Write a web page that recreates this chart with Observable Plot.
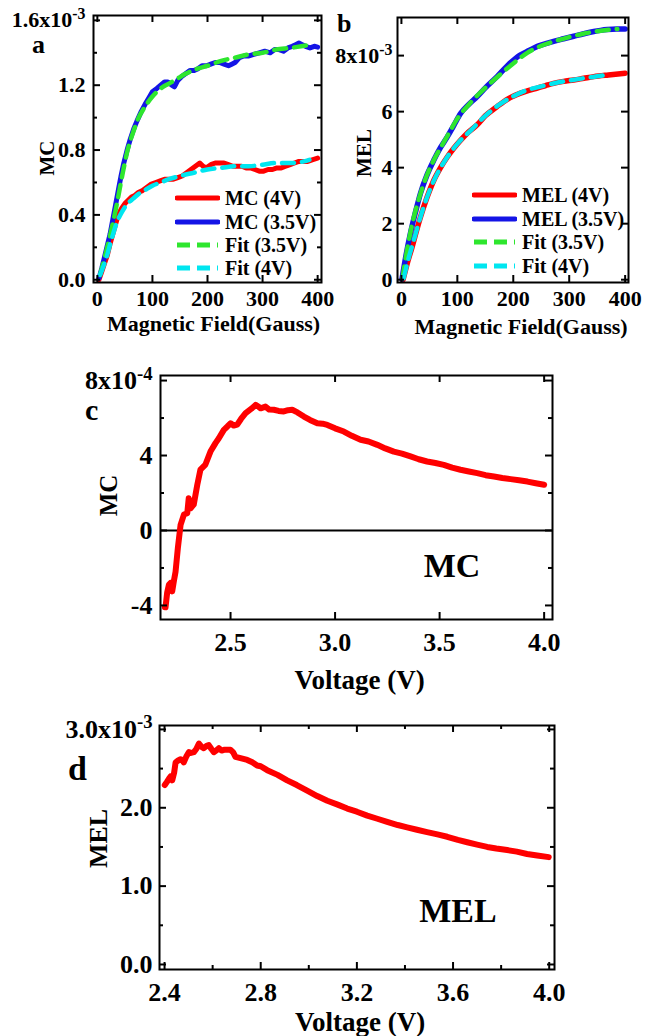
<!DOCTYPE html>
<html><head><meta charset="utf-8">
<script src="https://cdn.jsdelivr.net/npm/d3@7"></script>
<script src="https://cdn.jsdelivr.net/npm/@observablehq/plot@0.6"></script>
<style>
body{margin:0;background:#fff;}
#root{position:relative;width:650px;height:1036px;font-family:'Liberation Serif','Times New Roman',serif;font-weight:bold;color:#000;overflow:hidden;}
.pnl{position:absolute;}
.lab{position:absolute;white-space:nowrap;line-height:1;}
.leg{position:absolute;display:flex;align-items:center;height:24px;font-size:20px;white-space:nowrap;}
.leg svg{margin-right:5px;}
</style></head><body><div id="root"></div>
<script>
// ---------- colours ----------
const RED = "#ff0000", BLUE = "#1414e6", GREEN = "#2ee62e", CYAN = "#00e6f0";

// ---------- Panel a : MC vs magnetic field (units 1e-3) ----------
const aFieldMC35 = [3,8,13,18,23,28,33,38,43,48,54,60,66,72,80,88,95,100,108,115,122,128,135,140,146,152,160,168,175,182,190,198,206,214,222,230,238,244,250,258,266,274,284,294,304,314,322,330,338,346,354,360,366,372,378,386,394,400];
const aMC35 = [0.01,0.07,0.14,0.21,0.28,0.37,0.46,0.55,0.64,0.72,0.80,0.87,0.93,0.98,1.04,1.09,1.13,1.16,1.18,1.20,1.22,1.22,1.20,1.19,1.23,1.25,1.27,1.29,1.29,1.30,1.32,1.32,1.33,1.34,1.34,1.33,1.32,1.33,1.34,1.37,1.38,1.38,1.39,1.40,1.41,1.40,1.42,1.42,1.41,1.43,1.44,1.45,1.46,1.45,1.44,1.43,1.44,1.435];
const aFieldMC4 = [3,8,13,18,23,28,33,38,44,50,56,62,68,75,82,90,98,106,114,122,130,138,146,154,162,170,178,186,192,198,206,214,222,230,238,246,254,262,270,278,286,294,302,310,318,326,334,342,350,358,366,374,382,390,400];
const aMC4 = [0.00,0.05,0.10,0.15,0.22,0.28,0.34,0.40,0.44,0.47,0.49,0.51,0.52,0.54,0.55,0.57,0.59,0.60,0.61,0.62,0.62,0.62,0.63,0.64,0.66,0.68,0.70,0.72,0.70,0.69,0.71,0.72,0.72,0.72,0.71,0.70,0.70,0.70,0.69,0.69,0.68,0.67,0.67,0.68,0.68,0.69,0.69,0.70,0.71,0.72,0.73,0.73,0.73,0.74,0.75];
const aFieldFit35 = [5,15,25,35,45,55,65,75,85,100,115,130,145,160,180,200,225,250,275,300,325,350,370,390];
const aFit35 = [0.03,0.16,0.30,0.46,0.64,0.80,0.91,1.00,1.06,1.13,1.18,1.21,1.24,1.27,1.30,1.32,1.35,1.37,1.39,1.40,1.42,1.43,1.44,1.45];
const aFieldFit4 = [5,15,25,35,45,55,65,75,85,100,115,130,150,175,200,225,250,275,300,325,350,375,385];
const aFit4 = [0.03,0.12,0.24,0.35,0.42,0.47,0.50,0.53,0.55,0.58,0.60,0.62,0.64,0.66,0.68,0.69,0.70,0.70,0.71,0.72,0.72,0.73,0.74];
const aXTicks = [0,100,200,300,400];
const aYTicks = [0,0.4,0.8,1.2,1.6];
const aYMinor = [0.2,0.6,1.0,1.4];
const aLegend = ["MC (4V)","MC (3.5V)","Fit (3.5V)","Fit (4V)"];

// ---------- Panel b : MEL vs magnetic field (units 1e-3) ----------
const bFieldMEL35 = [1,8,16,25,34,46,58,70,82,94,106,120,135,150,171,190,213,228,243,258,272,290,308,326,344,356,368,385,400];
const bMEL35 = [0.02,0.85,1.65,2.40,3.08,3.75,4.27,4.72,5.10,5.52,5.94,6.25,6.53,6.85,7.25,7.65,8.03,8.18,8.33,8.43,8.51,8.60,8.69,8.78,8.86,8.90,8.93,8.95,8.95];
const bFieldMEL4 = [3,10,19,27,34,46,58,70,82,94,106,120,135,150,171,190,213,228,243,258,272,290,308,326,344,370,400];
const bMEL4 = [0.0,0.55,1.16,1.75,2.23,2.95,3.55,4.00,4.38,4.70,4.98,5.27,5.52,5.85,6.18,6.45,6.66,6.76,6.84,6.93,7.01,7.08,7.13,7.19,7.25,7.31,7.37];
const bFieldFit35 = [2,10,20,30,45,60,80,100,125,150,175,200,225,250,275,300,325,350,386];
const bFit35 = [0.05,1.05,2.05,2.80,3.70,4.35,5.05,5.75,6.35,6.85,7.30,7.72,8.10,8.35,8.52,8.66,8.78,8.87,8.95];
const bFieldFit4 = [4,12,22,32,45,60,80,100,125,150,175,200,225,250,275,300,325,350,368];
const bFit4 = [0.05,0.70,1.40,2.10,2.90,3.62,4.32,4.85,5.35,5.85,6.25,6.55,6.77,6.90,7.02,7.11,7.19,7.26,7.31];
const bXTicks = [0,100,200,300,400];
const bYTicks = [0,2,4,6,8];
const bLegend = ["MEL (4V)","MEL (3.5V)","Fit (3.5V)","Fit (4V)"];

// ---------- Panel c : MC vs voltage (units 1e-4) ----------
const cVolt = [2.186,2.189,2.197,2.205,2.213,2.221,2.229,2.237,2.248,2.261,2.277,2.293,2.300,2.309,2.324,2.341,2.356,2.380,2.404,2.428,2.444,2.468,2.485,2.500,2.515,2.532,2.550,2.572,2.600,2.620,2.635,2.644,2.667,2.685,2.707,2.730,2.755,2.775,2.795,2.820,2.851,2.880,2.915,2.940,2.963,3.000,3.042,3.080,3.122,3.160,3.202,3.240,3.281,3.320,3.361,3.400,3.440,3.480,3.520,3.560,3.600,3.640,3.680,3.720,3.760,3.800,3.840,3.880,3.920,3.960,4.000];
const cMC = [-4.1,-4.1,-3.3,-2.9,-2.8,-3.25,-2.7,-2.2,-0.94,0.3,0.85,0.92,1.72,1.19,1.38,2.44,3.25,3.52,4.21,4.66,4.92,5.37,5.55,5.72,5.60,5.65,5.95,6.26,6.50,6.70,6.60,6.52,6.61,6.45,6.44,6.38,6.35,6.42,6.44,6.30,6.08,5.90,5.72,5.70,5.63,5.45,5.28,5.05,4.84,4.75,4.57,4.38,4.21,4.10,3.95,3.80,3.68,3.60,3.50,3.35,3.24,3.15,3.06,2.95,2.88,2.80,2.74,2.68,2.61,2.52,2.44];
const cXTicks = [2.5,3.0,3.5,4.0];
const cYTicks = [-4,0,4,8];
const cYMinor = [-2,2,6];

// ---------- Panel d : MEL vs voltage (units 1e-3) ----------
const dVolt = [2.401,2.410,2.418,2.425,2.432,2.440,2.446,2.455,2.467,2.475,2.480,2.490,2.501,2.510,2.522,2.532,2.543,2.553,2.563,2.575,2.584,2.595,2.605,2.615,2.626,2.637,2.647,2.660,2.674,2.685,2.695,2.720,2.744,2.765,2.785,2.800,2.827,2.870,2.910,2.950,2.993,3.035,3.077,3.120,3.160,3.200,3.243,3.285,3.326,3.370,3.409,3.450,3.492,3.535,3.576,3.620,3.659,3.700,3.742,3.780,3.825,3.865,3.908,3.950,3.998];
const dMEL = [2.29,2.33,2.37,2.40,2.35,2.45,2.58,2.60,2.62,2.60,2.58,2.65,2.71,2.70,2.71,2.75,2.82,2.78,2.76,2.79,2.80,2.75,2.71,2.73,2.76,2.73,2.74,2.74,2.74,2.71,2.65,2.63,2.61,2.58,2.54,2.53,2.48,2.42,2.35,2.29,2.22,2.15,2.09,2.04,1.99,1.95,1.90,1.86,1.82,1.78,1.75,1.72,1.69,1.66,1.63,1.59,1.56,1.53,1.50,1.48,1.46,1.44,1.41,1.39,1.37];
const dXTicks = [2.4,2.8,3.2,3.6,4.0];
const dXMinor = [2.6,3.0,3.4,3.8];
const dYTicks = [0,1,2,3];
const dYMinor = [0.5,1.5,2.5];

// ---------- helpers ----------
const FONT = "'Liberation Serif','Times New Roman',serif";
const zip = (xs, ys) => xs.map((x, i) => ({x, y: ys[i]}));

function panel(o) {
  const ph = o.height - o.mT - o.mB, pw = o.width - o.mL - o.mR;
  const TK = 7, TM = 4;
  const tx = (vals, len) => vals ? [
    Plot.tickX(vals, {x: d => d, insetTop: ph - len, strokeWidth: 2}),
    Plot.tickX(vals, {x: d => d, insetBottom: ph - len, strokeWidth: 2})] : [];
  const ty = (vals, len) => vals ? [
    Plot.tickY(vals, {y: d => d, insetRight: pw - len, strokeWidth: 2}),
    Plot.tickY(vals, {y: d => d, insetLeft: pw - len, strokeWidth: 2})] : [];
  return Plot.plot({
    width: o.width, height: o.height,
    marginLeft: o.mL, marginRight: o.mR, marginTop: o.mT, marginBottom: o.mB,
    x: {domain: o.xDomain}, y: {domain: o.yDomain},
    style: {fontFamily: FONT, fontWeight: "bold", background: "transparent", overflow: "visible", color: "#000"},
    marks: [
      ...o.marks,
      Plot.frame({strokeWidth: 2}),
      ...tx(o.xMajor, TK), ...tx(o.xMinor, TM),
      ...ty(o.yMajor, TK), ...ty(o.yMinor, TM),
      Plot.axisX(o.xMajor, {tickSize: 0, tickPadding: o.xPad, tickFormat: o.xFmt, fontSize: o.fs, label: null}),
      Plot.axisY(o.yMajor, {tickSize: 0, tickPadding: o.yPad, tickFormat: o.yFmt, fontSize: o.fs, label: null}),
      Plot.text([o.xTitle], {text: d => d, frameAnchor: "bottom", textAnchor: "middle", lineAnchor: "middle", dx: o.xt[0], dy: o.xt[1], fontSize: o.xts}),
      Plot.text([o.yTitle], {text: d => d, frameAnchor: "left", textAnchor: "middle", lineAnchor: "middle", rotate: -90, dx: o.yt[0], dy: o.yt[1], fontSize: o.yts})
    ]
  });
}

function addSup(svg, exp) {
  d3.select(svg).selectAll("text").each(function() {
    if (this.childNodes.length === 1 && /x10$/.test(this.textContent)) {
      d3.select(this).append("tspan").attr("dy", "-0.5em").attr("font-size", "0.72em").text(exp);
    }
  });
}

function place(node, left, top) {
  const d = document.createElement("div");
  d.className = "pnl"; d.style.left = left + "px"; d.style.top = top + "px";
  d.appendChild(node); root.appendChild(d);
}
function label(txt, left, top, size, center) {
  const d = document.createElement("div");
  d.className = "lab"; d.textContent = txt;
  d.style.left = left + "px"; d.style.top = top + "px"; d.style.fontSize = size + "px";
  if (center) d.style.transform = "translateX(-50%)";
  root.appendChild(d);
}
function legend(names, styles, x0, ys, x1) {
  names.forEach((n, i) => {
    const d = document.createElement("div");
    d.className = "leg"; d.style.left = x0 + "px"; d.style.top = (ys[i] - 12) + "px";
    const w = x1 - x0;
    d.innerHTML = `<svg width="${w}" height="24"><line x1="2" x2="${w - 2}" y1="12" y2="12" stroke="${styles[i].c}" stroke-width="5" ${styles[i].dash ? 'stroke-dasharray="13,7"' : 'stroke-linecap="round"'}/></svg>`;
    const s = document.createElement("span"); s.textContent = n; d.appendChild(s);
    root.appendChild(d);
  });
}

const root = document.getElementById("root");
const f1 = d => d.toFixed(1);

// ---------- Panel a ----------
const pa = panel({
  width: 330, height: 345, mL: 93, mR: 9, mT: 15, mB: 63,
  xDomain: [-7, 407], yDomain: [-0.017, 1.63],
  xMajor: aXTicks, yMajor: aYTicks, yMinor: aYMinor,
  xFmt: d => String(d), yFmt: d => d === 1.6 ? "1.6x10" : f1(d),
  fs: 22, xPad: 8, yPad: 8,
  xTitle: "Magnetic Field(Gauss)", xt: [6, 41], xts: 22,
  yTitle: "MC", yt: [-46, 9], yts: 21,
  marks: [
    Plot.line(zip(aFieldMC4, aMC4), {x: "x", y: "y", stroke: RED, strokeWidth: 5, strokeLinejoin: "round", strokeLinecap: "round"}),
    Plot.line(zip(aFieldMC35, aMC35), {x: "x", y: "y", stroke: BLUE, strokeWidth: 5, strokeLinejoin: "round", strokeLinecap: "round"}),
    Plot.line(zip(aFieldFit35, aFit35), {x: "x", y: "y", stroke: GREEN, strokeWidth: 4.5, strokeDasharray: "12,8", curve: "monotone-x"}),
    Plot.line(zip(aFieldFit4, aFit4), {x: "x", y: "y", stroke: CYAN, strokeWidth: 4.5, strokeDasharray: "12,8", curve: "monotone-x"})
  ]
});
addSup(pa, "-3");
place(pa, 0, 0);

// ---------- Panel b ----------
const pb = panel({
  width: 320, height: 345, mL: 67, mR: 22, mT: 17, mB: 63,
  xDomain: [-7, 406], yDomain: [-0.1, 9.36],
  xMajor: bXTicks, yMajor: bYTicks,
  xFmt: d => String(d), yFmt: d => d === 8 ? "8x10" : String(d),
  fs: 22, xPad: 8, yPad: 5,
  xTitle: "Magnetic Field(Gauss)", xt: [8, 44], xts: 22,
  yTitle: "MEL", yt: [-33, 3], yts: 21,
  marks: [
    Plot.line(zip(bFieldMEL4, bMEL4), {x: "x", y: "y", stroke: RED, strokeWidth: 5.5, strokeLinejoin: "round", strokeLinecap: "round", curve: "monotone-x"}),
    Plot.line(zip(bFieldMEL35, bMEL35), {x: "x", y: "y", stroke: BLUE, strokeWidth: 5.5, strokeLinejoin: "round", strokeLinecap: "round", curve: "monotone-x"}),
    Plot.line(zip(bFieldFit35, bFit35), {x: "x", y: "y", stroke: GREEN, strokeWidth: 4.5, strokeDasharray: "12,8", curve: "monotone-x"}),
    Plot.line(zip(bFieldFit4, bFit4), {x: "x", y: "y", stroke: CYAN, strokeWidth: 4.5, strokeDasharray: "12,8", curve: "monotone-x"})
  ]
});
addSup(pb, "-3");
place(pb, 330, 0);

// ---------- Panel c ----------
const pc = panel({
  width: 650, height: 355, mL: 160, mR: 98, mT: 30, mB: 81,
  xDomain: [2.165, 4.04], yDomain: [-4.75, 8.27],
  xMajor: cXTicks, yMajor: cYTicks, yMinor: cYMinor,
  xFmt: f1, yFmt: d => d === 8 ? "8x10" : String(d),
  fs: 26, xPad: 13, yPad: 8,
  xTitle: "Voltage (V)", xt: [3, 61], xts: 27,
  yTitle: "MC", yt: [-52, -2], yts: 25,
  marks: [
    Plot.ruleY([0], {strokeWidth: 2}),
    Plot.line(zip(cVolt, cMC), {x: "x", y: "y", stroke: RED, strokeWidth: 6, strokeLinejoin: "round", strokeLinecap: "round"})
  ]
});
addSup(pc, "-4");
place(pc, 0, 345);

// ---------- Panel d ----------
const pd = panel({
  width: 650, height: 336, mL: 159, mR: 96, mT: 25, mB: 67,
  xDomain: [2.379, 4.022], yDomain: [-0.064, 3.05],
  xMajor: dXTicks, xMinor: dXMinor, yMajor: dYTicks, yMinor: dYMinor,
  xFmt: f1, yFmt: d => d === 3 ? "3.0x10" : f1(d),
  fs: 26, xPad: 13, yPad: 7,
  xTitle: "Voltage (V)", xt: [3, 53], xts: 27,
  yTitle: "MEL", yt: [-61, -9], yts: 26,
  marks: [
    Plot.line(zip(dVolt, dMEL), {x: "x", y: "y", stroke: RED, strokeWidth: 6, strokeLinejoin: "round", strokeLinecap: "round"})
  ]
});
addSup(pd, "-3");
place(pd, 0, 700);

// ---------- panel letters & annotations ----------
label("a", 32, 32, 26);
label("b", 337, 11, 26);
label("c", 85, 395, 30);
label("d", 68, 752, 34);
label("MC", 452, 549, 34, true);
label("MEL", 458, 894, 34, true);

// ---------- legends ----------
const styles = [{c: RED}, {c: BLUE}, {c: GREEN, dash: true}, {c: CYAN, dash: true}];
legend(aLegend, styles, 175, [198, 222, 245, 268], 220);
legend(bLegend, styles, 472, [195, 219, 242, 266], 517);
</script></body></html>
